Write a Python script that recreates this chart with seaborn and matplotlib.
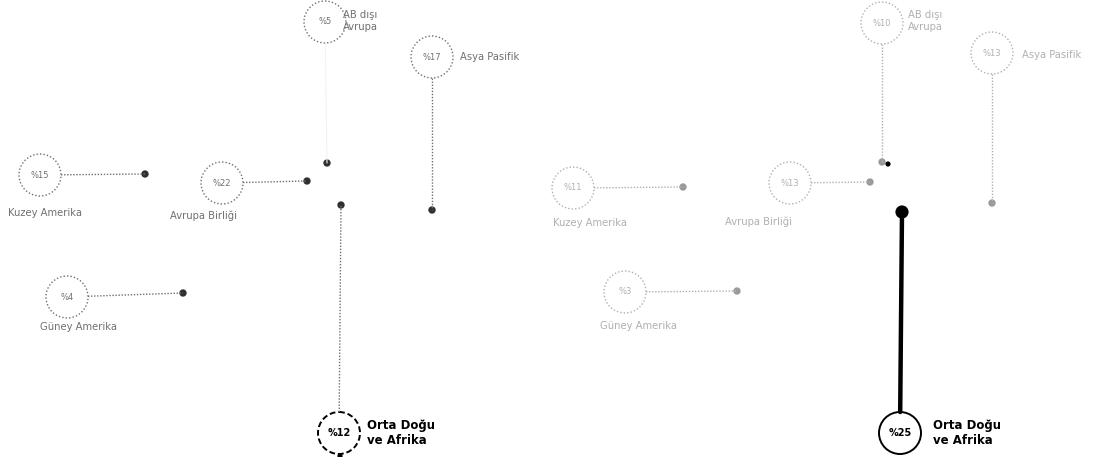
import numpy as np
import pandas as pd
import matplotlib
matplotlib.use('Agg')
import matplotlib.pyplot as plt
from matplotlib.patches import Circle
import seaborn as sns

# data: region names and their shares (%) in the two panels
regions = ['Kuzey Amerika', 'Avrupa Birliği', 'Güney Amerika',
           'AB dışı\nAvrupa', 'Asya Pasifik', 'Orta Doğu\nve Afrika']
share_left = [15, 22, 4, 5, 17, 12]
share_right = [11, 13, 3, 10, 13, 25]
highlight = 'Orta Doğu\nve Afrika'

# layout (pixel coords): circle centre, end dot, label anchor
left_circle = [(40, 175), (222, 183), (67, 297), (325, 22), (432, 57), (339, 433)]
left_dot = [(145, 174), (307, 181), (183, 293), (327, 163), (432, 210), (341, 205)]
left_label = [(8, 213), (170, 216), (40, 327), (343, 21), (460, 57), (367, 433)]

right_circle = [(573, 188), (790, 183), (625, 292), (882, 23), (992, 53), (900, 433)]
right_dot = [(683, 187), (870, 182), (737, 291), (882, 162), (992, 203), (902, 212)]
right_label = [(553, 223), (725, 222), (600, 326), (908, 21), (1022, 55), (933, 433)]

sns.set_theme(style='white')
plt.rcParams['font.family'] = ['DejaVu Sans']

fig = plt.figure(figsize=(11.16, 4.57), dpi=100)
ax = fig.add_axes([0, 0, 1, 1])
ax.set_xlim(0, 1116)
ax.set_ylim(457, 0)
ax.axis('off')


def draw_panel(shares, circles, dots, labels, grey, dot_grey, strong, faint=()):
    seg_rows = []
    dot_rows = []
    for i, (name, val) in enumerate(zip(regions, shares)):
        hl = name == highlight
        cx, cy = circles[i]
        dx, dy = dots[i]
        r = 21
        # start the connector on the circle edge
        vx, vy = dx - cx, dy - cy
        d = np.hypot(vx, vy)
        sx, sy = cx + vx / d * r, cy + vy / d * r
        kind = 'hl' if (hl and strong) else ('faint' if name in faint else 'base')
        seg_rows += [dict(seg=name, x=sx, y=sy, kind=kind),
                     dict(seg=name, x=dx, y=dy, kind=kind)]
        dot_rows.append(dict(x=dx, y=dy, kind=kind))
        ax.add_patch(Circle((cx, cy), r, fill=False,
                            ec='black' if hl else grey,
                            lw=1.4 if hl else 1.0,
                            ls=('-' if strong else (0, (3, 1.5))) if hl else (0, (1, 1.5))))
        ax.text(cx, cy, f'%{val}', ha='center', va='center',
                fontsize=7 if hl else 6, color='black' if hl else grey,
                fontweight='bold' if hl else 'normal')
        lx, ly = labels[i]
        ax.text(lx, ly, name, ha='left', va='center', linespacing=1.15,
                fontsize=8.5 if hl else 7.2, color='black' if hl else grey,
                fontweight='bold' if hl else 'normal')
    segs = pd.DataFrame(seg_rows)
    pts = pd.DataFrame(dot_rows)
    sns.lineplot(data=segs[segs.kind == 'base'], x='x', y='y', units='seg',
                 estimator=None, sort=False, color=grey, lw=1.0,
                 ls=(0, (1, 1.2)), ax=ax)
    if (segs.kind == 'faint').any():
        sns.lineplot(data=segs[segs.kind == 'faint'], x='x', y='y', units='seg',
                     estimator=None, sort=False, color='#f2f2f2', lw=0.8, ax=ax)
    if (segs.kind == 'hl').any():
        sns.lineplot(data=segs[segs.kind == 'hl'], x='x', y='y', units='seg',
                     estimator=None, sort=False, color='black', lw=3.2, ax=ax)
        sns.scatterplot(data=pts[pts.kind == 'hl'], x='x', y='y', color='black',
                        s=90, edgecolor='none', ax=ax)
    sns.scatterplot(data=pts[pts.kind != 'hl'], x='x', y='y', color=dot_grey,
                    s=28, edgecolor='none', ax=ax)


draw_panel(share_left, left_circle, left_dot, left_label, '#707070', '#303030',
           strong=False, faint=('AB dışı\nAvrupa',))
draw_panel(share_right, right_circle, right_dot, right_label, '#b0b0b0', '#9a9a9a',
           strong=True)

# small black markers: beside the right AB dışı Avrupa end point, below the left circle
sns.scatterplot(x=[888, 340], y=[164, 456], color='black', s=14, edgecolor='none', ax=ax)

ax.set_xlim(0, 1116)
ax.set_ylim(457, 0)
ax.set_xlabel('')
ax.set_ylabel('')
fig.savefig('out.png', dpi=100)
